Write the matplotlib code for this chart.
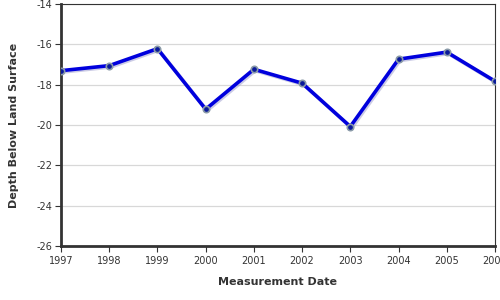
import numpy as np
import matplotlib
matplotlib.use('Agg')
import matplotlib.pyplot as plt
import matplotlib.patheffects as pe

years = [1997, 1998, 1999, 2000, 2001, 2002, 2003, 2004, 2005, 2006]
depth = [-17.31, -17.06, -16.22, -19.22, -17.24, -17.93, -20.08, -16.74, -16.39, -17.83]
y_ticks = [-26, -24, -22, -20, -18, -16, -14]


def main():
	plt.rcParams['axes.unicode_minus'] = False
	fig = plt.figure(figsize=(5, 3), dpi=100)
	ax = fig.add_axes([0.122, 0.18, 0.868, 0.807])

	ax.plot(years, depth, color='#0000dd', lw=2.6, zorder=3,
		path_effects=[pe.SimpleLineShadow(offset=(1, -1), shadow_color='#9999cc', alpha=0.5), pe.Normal()])
	ax.plot(years, depth, 'o', ms=4.6, color='#0a1a9a', mec='#8a9aa8', mew=1.2, zorder=4)

	ax.set_xlim(1997, 2006)
	ax.set_ylim(-26, -14)
	ax.set_xticks(years)
	ax.set_yticks(y_ticks)
	ax.grid(axis='y', color='#d8d8d8', lw=0.9)
	ax.set_axisbelow(True)

	for s in ['left', 'bottom']:
		ax.spines[s].set_linewidth(2)
		ax.spines[s].set_color('#333333')
	for s in ['top', 'right']:
		ax.spines[s].set_linewidth(0.8)
		ax.spines[s].set_color('#333333')

	ax.tick_params(axis='both', labelsize=7, colors='#333333', length=4, width=0.8, direction='out')
	ax.tick_params(axis='x', pad=3)
	ax.tick_params(axis='y', pad=2)

	ax.set_xlabel('Measurement Date', fontsize=8, fontweight='bold', color='#333333', labelpad=8)
	ax.set_ylabel('Depth Below Land Surface', fontsize=8, fontweight='bold', color='#333333', labelpad=13)

	fig.savefig('out.png', dpi=100)


if __name__ == '__main__':
	main()
